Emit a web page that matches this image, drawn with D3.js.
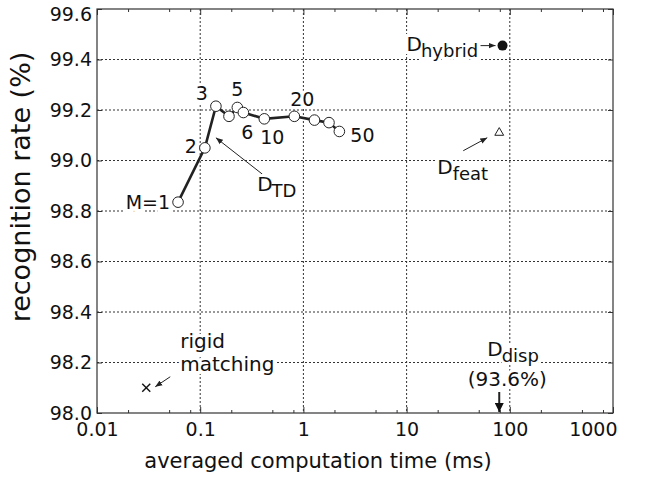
<!DOCTYPE html>
<html>
<head>
<meta charset="utf-8">
<script src="https://cdn.jsdelivr.net/npm/d3@7"></script>
<style>
body { margin: 0; background: #fff; }
text { font-family: "DejaVu Sans", Verdana, sans-serif; fill: #111; }
</style>
</head>
<body>
<div id="chart"></div>
<script>
// D_TD series (M = number of templates)
const tdM = [1, 2, 3, 4, 5, 6, 10, 20, 30, 40, 50];
const tdTime = [0.061, 0.111, 0.142, 0.19, 0.229, 0.262, 0.418, 0.817, 1.28, 1.77, 2.23];
const tdRate = [98.835, 99.05, 99.215, 99.175, 99.21, 99.19, 99.165, 99.175, 99.16, 99.15, 99.115];
const tdLabels = ['M=1', '2', '3', '5', '6', '10', '20', '50'];

// other methods
const hybridPoint = [85, 99.455];
const featPoint = [79, 99.11];
const rigidPoint = [0.03, 98.1];
const dispTime = 79;
const dispRate = '(93.6%)';

const xTicks = [0.01, 0.1, 1, 10, 100, 1000];
const xTickLabels = ['0.01', '0.1', '1', '10', '100', '1000'];
const yTicks = [98.0, 98.2, 98.4, 98.6, 98.8, 99.0, 99.2, 99.4, 99.6];

const width = 645, height = 480;
const margin = {top: 9, right: 32, bottom: 67, left: 97};
const iw = width - margin.left - margin.right,
    ih = height - margin.top - margin.bottom;

const svg = d3.select('#chart').append('svg')
    .attr('width', width)
    .attr('height', height);

const defs = svg.append('defs');
defs.append('marker')
    .attr('id', 'arr')
    .attr('viewBox', '0 0 10 10')
    .attr('refX', 10).attr('refY', 5)
    .attr('markerWidth', 7).attr('markerHeight', 7)
    .attr('markerUnits', 'userSpaceOnUse')
    .attr('orient', 'auto')
    .append('path').attr('d', 'M0,1 L10,5 L0,9 Z').attr('fill', '#222');
defs.append('marker')
    .attr('id', 'arrBig')
    .attr('viewBox', '0 0 10 10')
    .attr('refX', 10).attr('refY', 5)
    .attr('markerWidth', 11).attr('markerHeight', 9)
    .attr('markerUnits', 'userSpaceOnUse')
    .attr('orient', 'auto')
    .append('path').attr('d', 'M0,0 L10,5 L0,10 Z').attr('fill', '#111');

const g = svg.append('g')
    .attr('transform', 'translate(' + margin.left + ',' + margin.top + ')');

const x = d3.scaleLog().domain([0.01, 1000]).range([0, iw]);
const y = d3.scaleLinear().domain([98.0, 99.6]).range([ih, 0]);

// minor ticks at 2, 5, 8 of each decade
const minorX = [];
d3.range(-2, 3).forEach(e => [2, 5, 8].forEach(m => minorX.push(m * Math.pow(10, e))));

// grid
g.append('g').selectAll('line')
    .data(xTicks.slice(1, -1))
    .enter().append('line')
    .attr('x1', d => x(d)).attr('x2', d => x(d))
    .attr('y1', 0).attr('y2', ih)
    .attr('stroke', '#333').attr('stroke-width', 1)
    .attr('stroke-dasharray', '2,2');
g.append('g').selectAll('line')
    .data(yTicks.slice(1, -1))
    .enter().append('line')
    .attr('x1', 0).attr('x2', iw)
    .attr('y1', d => y(d)).attr('y2', d => y(d))
    .attr('stroke', '#333').attr('stroke-width', 1)
    .attr('stroke-dasharray', '2,2');

// axes with inward ticks
function styleAxis(sel) {
    sel.select('.domain').remove();
    sel.selectAll('line').attr('stroke', '#333');
    sel.selectAll('text').style('font-size', '19px').attr('fill', '#111');
}
const xAx = g.append('g')
    .attr('transform', 'translate(0,' + ih + ')')
    .call(d3.axisBottom(x).tickValues(xTicks).tickFormat((d, i) => xTickLabels[i]).tickSizeInner(-6).tickPadding(14))
    .call(styleAxis);
xAx.selectAll('text').attr('dy', '0.45em');
xAx.selectAll('text').filter(d => d === 1000).attr('text-anchor', 'end').attr('dx', 4);
g.append('g')
    .attr('transform', 'translate(0,' + ih + ')')
    .call(d3.axisBottom(x).tickValues(minorX).tickFormat('').tickSizeInner(-3))
    .call(styleAxis);
g.append('g')
    .call(d3.axisTop(x).tickValues(xTicks).tickFormat('').tickSizeInner(-6))
    .call(styleAxis);
g.append('g')
    .call(d3.axisTop(x).tickValues(minorX).tickFormat('').tickSizeInner(-3))
    .call(styleAxis);
const yAx = g.append('g')
    .call(d3.axisLeft(y).tickValues(yTicks).tickFormat(d3.format('.1f')).tickSizeInner(-5).tickPadding(5))
    .call(styleAxis);
yAx.selectAll('text').filter(d => d === 99.6).attr('dy', '0.62em');
g.append('g')
    .attr('transform', 'translate(' + iw + ',0)')
    .call(d3.axisRight(y).tickValues(yTicks).tickFormat('').tickSizeInner(-5))
    .call(styleAxis);

g.append('rect')
    .attr('width', iw).attr('height', ih)
    .attr('fill', 'none').attr('stroke', '#333').attr('stroke-width', 1.2);

// axis titles
svg.append('text')
    .attr('x', 318)
    .attr('y', 468)
    .attr('text-anchor', 'middle')
    .style('font-size', '21px')
    .text('averaged computation time (ms)');
svg.append('text')
    .attr('transform', 'translate(30,187) rotate(-90)')
    .attr('text-anchor', 'middle')
    .style('font-size', '27px')
    .text('recognition rate (%)');

// labels: a white halo copy first (breaks the grid like the original), then the text
function label(px, py, txt, size, anchor) {
    [true, false].forEach(halo => {
        const t = g.append('text')
            .attr('x', px).attr('y', py)
            .attr('text-anchor', anchor || 'start')
            .style('font-size', size + 'px')
            .text(txt);
        if (halo) t.attr('stroke', '#fff').attr('stroke-width', 6).style('fill', '#fff');
    });
}
function dLabel(px, py, sub, gap) {
    [true, false].forEach(halo => {
        const t = g.append('text')
            .attr('x', px).attr('y', py)
            .style('font-size', '20px');
        t.append('tspan').text('D');
        t.append('tspan').attr('dx', gap || 0).attr('dy', 6).style('font-size', '18px').text(sub);
        if (halo) t.attr('stroke', '#fff').attr('stroke-width', 6).style('fill', '#fff');
    });
}
function arrow(x1, y1, x2, y2, marker) {
    g.append('line')
        .attr('x1', x1).attr('y1', y1).attr('x2', x2).attr('y2', y2)
        .attr('stroke', '#222').attr('stroke-width', marker === 'arrBig' ? 2 : 1)
        .attr('marker-end', 'url(#' + (marker || 'arr') + ')');
}

// D_TD line
const tdData = tdM.map((m, i) => ({m: m, t: tdTime[i], r: tdRate[i]}));
g.append('path')
    .datum(tdData)
    .attr('fill', 'none')
    .attr('stroke', '#222')
    .attr('stroke-width', 2.6)
    .attr('d', d3.line().x(d => x(d.t)).y(d => y(d.r)));
g.append('g').selectAll('circle')
    .data(tdData)
    .enter().append('circle')
    .attr('cx', d => x(d.t)).attr('cy', d => y(d.r))
    .attr('r', 5.3)
    .attr('fill', '#fff').attr('stroke', '#222').attr('stroke-width', 1);

// M labels
const byM = {};
tdData.forEach(d => byM[d.m] = d);
const labelPos = {
    'M=1': [1, -8, 7, 'end'],
    '2': [2, -8, 5, 'end'],
    '3': [3, -14, -6, 'middle'],
    '5': [5, 0, -11, 'middle'],
    '6': [6, 4, 26, 'middle'],
    '10': [10, 8, 25, 'middle'],
    '20': [20, 8, -10, 'middle'],
    '50': [50, 11, 11, 'start']
};
tdLabels.forEach(lab => {
    const p = labelPos[lab];
    const d = byM[p[0]];
    label(x(d.t) + p[1], y(d.r) + p[2], lab, 19, p[3]);
});

// D_TD annotation
arrow(x(0.4), y(98.95) + 1, x(0.142), y(99.09), 'arr');
dLabel(x(0.39) - 4, y(98.835) - 11, 'TD', -1);

// D_hybrid
g.append('circle')
    .attr('cx', x(hybridPoint[0])).attr('cy', y(hybridPoint[1]))
    .attr('r', 5).attr('fill', '#111');
dLabel(x(hybridPoint[0]) - 96, y(hybridPoint[1]) + 5, 'hybrid', -1);
arrow(x(hybridPoint[0]) - 22, y(hybridPoint[1]), x(hybridPoint[0]) - 7, y(hybridPoint[1]), 'arr');

// D_feat
g.append('path')
    .attr('transform', 'translate(' + x(featPoint[0]) + ',' + y(featPoint[1]) + ')')
    .attr('d', d3.symbol(d3.symbolTriangle, 34)())
    .attr('fill', '#fff').attr('stroke', '#222').attr('stroke-width', 1);
arrow(x(featPoint[0]) - 36, y(featPoint[1]) + 18, x(featPoint[0]) - 12, y(featPoint[1]) + 5, 'arr');
dLabel(x(featPoint[0]) - 62, y(featPoint[1]) + 41, 'feat', 0);

// rigid matching
g.append('g')
    .attr('transform', 'translate(' + x(rigidPoint[0]) + ',' + y(rigidPoint[1]) + ')')
    .selectAll('line')
    .data([[-4, -4, 4, 4], [-4, 4, 4, -4]])
    .enter().append('line')
    .attr('x1', d => d[0]).attr('y1', d => d[1]).attr('x2', d => d[2]).attr('y2', d => d[3])
    .attr('stroke', '#111').attr('stroke-width', 1.4);
arrow(x(rigidPoint[0]) + 24, y(rigidPoint[1]) - 11, x(rigidPoint[0]) + 9, y(rigidPoint[1]) - 1, 'arr');
label(x(rigidPoint[0]) + 34, y(rigidPoint[1]) - 40, 'rigid', 20, 'start');
label(x(rigidPoint[0]) + 34, y(rigidPoint[1]) - 17, 'matching', 20, 'start');

// D_disp is off-scale (93.6%), marked by an arrow at the axis floor
dLabel(x(dispTime) - 12, y(98.0) - 57, 'disp', -1);
label(x(dispTime) + 8, y(98.0) - 27, dispRate, 20, 'middle');
arrow(x(dispTime), y(98.0) - 21, x(dispTime), y(98.0) - 1, 'arrBig');
</script>
</body>
</html>
